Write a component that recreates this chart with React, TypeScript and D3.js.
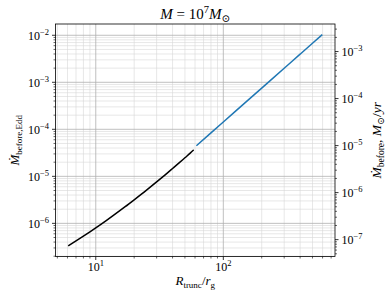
import React, { useRef, useEffect } from 'react';
import * as d3 from 'd3';

// truncation radius (in r_g) and accretion rate (Eddington units)
const innerR = [6.08, 7, 8, 9, 10, 12, 14, 17, 20, 25, 30, 35, 40, 45, 50, 55, 58.6];
const innerRate = [3.31e-7, 4.22e-7, 5.34e-7, 6.61e-7, 8.03e-7, 1.135e-6, 1.531e-6, 2.26e-6, 3.17e-6,
  5.09e-6, 7.6e-6, 1.076e-5, 1.466e-5, 1.93e-5, 2.48e-5, 3.11e-5, 3.65e-5];
const outerR = [61.5, 80, 100, 150, 200, 300, 400, 500, 597];
const outerRate = [4.47e-5, 8.38e-5, 1.43e-4, 3.78e-4, 7.53e-4, 1.99e-3, 3.96e-3, 6.76e-3, 1.035e-2];

const xTickExp = [1, 2];
const leftTickExp = [-6, -5, -4, -3, -2];
const rightTickExp = [-7, -6, -5, -4, -3];
const eddRate = 0.222; // Msun/yr for M = 1e7 Msun

const FONT = "'Liberation Serif', 'DejaVu Serif', serif";

const App = () => {
  const svgRef = useRef<SVGSVGElement>(null);

  useEffect(() => {
    const width = 390;
    const height = 297;
    const margin = { top: 24, right: 55, bottom: 40.5, left: 55.5 };
    const iw = width - margin.left - margin.right;
    const ih = height - margin.top - margin.bottom;

    const svg = d3.select(svgRef.current);
    svg.selectAll('*').remove();

    // matplotlib-like 5% margins in log space
    const allR = [...innerR, ...outerR];
    const allRate = [...innerRate, ...outerRate];
    const lx0 = Math.log10(d3.min(allR)!), lx1 = Math.log10(d3.max(allR)!);
    const ly0 = Math.log10(d3.min(allRate)!), ly1 = Math.log10(d3.max(allRate)!);
    const mx = (lx1 - lx0) * 0.05, my = (ly1 - ly0) * 0.05;

    const x = d3.scaleLog().domain([10 ** (lx0 - mx), 10 ** (lx1 + mx)]).range([0, iw]);
    const y = d3.scaleLog().domain([10 ** (ly0 - my), 10 ** (ly1 + my)]).range([ih, 0]);
    const y2 = d3.scaleLog().domain(y.domain().map(d => d * eddRate)).range([ih, 0]);

    const g = svg.append('g').attr('transform', `translate(${margin.left},${margin.top})`);

    // minor / major ticks in log space
    const logTicks = (scale: d3.ScaleLogarithmic<number, number>) => {
      const [a, b] = scale.domain();
      const major: number[] = [];
      const minor: number[] = [];
      for (let e = Math.floor(Math.log10(a)) - 1; e <= Math.ceil(Math.log10(b)); e++) {
        for (let k = 1; k < 10; k++) {
          const v = k * 10 ** e;
          if (v < a || v > b) continue;
          (k === 1 ? major : minor).push(v);
        }
      }
      return { major, minor };
    };

    const xt = logTicks(x);
    const yt = logTicks(y);
    const y2t = logTicks(y2);

    // grid
    const grid = g.append('g');
    xt.minor.forEach(v => grid.append('line').attr('x1', x(v)).attr('x2', x(v)).attr('y1', 0).attr('y2', ih)
      .attr('stroke', '#d6d6d6').attr('stroke-width', 0.6));
    yt.minor.forEach(v => grid.append('line').attr('y1', y(v)).attr('y2', y(v)).attr('x1', 0).attr('x2', iw)
      .attr('stroke', '#d6d6d6').attr('stroke-width', 0.6));
    xt.major.forEach(v => grid.append('line').attr('x1', x(v)).attr('x2', x(v)).attr('y1', 0).attr('y2', ih)
      .attr('stroke', '#b0b0b0').attr('stroke-width', 0.8));
    yt.major.forEach(v => grid.append('line').attr('y1', y(v)).attr('y2', y(v)).attr('x1', 0).attr('x2', iw)
      .attr('stroke', '#b0b0b0').attr('stroke-width', 0.8));

    // lines
    const line = d3.line<[number, number]>().x(d => x(d[0])).y(d => y(d[1])).curve(d3.curveMonotoneX);
    g.append('path')
      .datum(innerR.map((r, i) => [r, innerRate[i]] as [number, number]))
      .attr('d', line).attr('fill', 'none').attr('stroke', '#000').attr('stroke-width', 1.5);
    g.append('path')
      .datum(outerR.map((r, i) => [r, outerRate[i]] as [number, number]))
      .attr('d', line).attr('fill', 'none').attr('stroke', '#1f77b4').attr('stroke-width', 1.5);

    // spines
    g.append('rect').attr('width', iw).attr('height', ih)
      .attr('fill', 'none').attr('stroke', '#000').attr('stroke-width', 0.8);

    // ticks
    const ticks = g.append('g').attr('stroke', '#000');
    xt.major.forEach(v => ticks.append('line').attr('x1', x(v)).attr('x2', x(v)).attr('y1', ih).attr('y2', ih + 3.5).attr('stroke-width', 0.8));
    xt.minor.forEach(v => ticks.append('line').attr('x1', x(v)).attr('x2', x(v)).attr('y1', ih).attr('y2', ih + 2).attr('stroke-width', 0.6));
    yt.major.forEach(v => ticks.append('line').attr('y1', y(v)).attr('y2', y(v)).attr('x1', 0).attr('x2', -3.5).attr('stroke-width', 0.8));
    yt.minor.forEach(v => ticks.append('line').attr('y1', y(v)).attr('y2', y(v)).attr('x1', 0).attr('x2', -2).attr('stroke-width', 0.6));
    y2t.major.forEach(v => ticks.append('line').attr('y1', y2(v)).attr('y2', y2(v)).attr('x1', iw).attr('x2', iw + 3.5).attr('stroke-width', 0.8));
    y2t.minor.forEach(v => ticks.append('line').attr('y1', y2(v)).attr('y2', y2(v)).attr('x1', iw).attr('x2', iw + 2).attr('stroke-width', 0.6));

    // power-of-ten labels
    const powLabel = (sel: d3.Selection<SVGGElement, unknown, null, undefined>, px: number, py: number,
      exp: number, anchor: string) => {
      const t = sel.append('text').attr('x', px).attr('y', py).attr('text-anchor', anchor)
        .attr('font-family', FONT).attr('font-size', 12).attr('fill', '#000');
      t.append('tspan').text('10');
      t.append('tspan').attr('dy', -5).attr('font-size', 8.5).text(String(exp).replace('-', '\u2212'));
    };

    xTickExp.forEach(e => powLabel(g, x(10 ** e), ih + 14.5, e, 'middle'));
    leftTickExp.forEach(e => powLabel(g, -6.5, y(10 ** e) + 4.3, e, 'end'));
    rightTickExp.forEach(e => powLabel(g, iw + 6.5, y2(10 ** e) + 4.3, e, 'start'));

    // title
    const title = svg.append('text').attr('x', margin.left + iw / 2).attr('y', 19)
      .attr('text-anchor', 'middle').attr('font-family', FONT).attr('font-size', 15);
    title.append('tspan').attr('font-style', 'italic').text('M');
    title.append('tspan').text(' = 10');
    title.append('tspan').attr('dy', -6).attr('font-size', 10.5).text('7');
    title.append('tspan').attr('dy', 6).attr('font-style', 'italic').text('M');
    title.append('tspan').attr('dy', 3).attr('font-size', 10.5).text('\u2299');

    // x label
    const xl = svg.append('text').attr('x', margin.left + iw / 2).attr('y', 285)
      .attr('text-anchor', 'middle').attr('font-family', FONT).attr('font-size', 13);
    xl.append('tspan').attr('font-style', 'italic').text('R');
    xl.append('tspan').attr('dy', 3).attr('font-size', 9).text('trunc');
    xl.append('tspan').attr('dy', -3).text('/');
    xl.append('tspan').attr('font-style', 'italic').text('r');
    xl.append('tspan').attr('dy', 3).attr('font-size', 9).text('g');

    // left y label
    const yl = svg.append('text')
      .attr('transform', `translate(19,${margin.top + ih / 2}) rotate(-90)`)
      .attr('text-anchor', 'middle').attr('font-family', FONT).attr('font-size', 13);
    yl.append('tspan').attr('font-style', 'italic').text('\u1E40');
    yl.append('tspan').attr('dy', 3).attr('font-size', 9).text('before,Edd');

    // right y label
    const yr = svg.append('text')
      .attr('transform', `translate(381,${margin.top + ih / 2}) rotate(-90)`)
      .attr('text-anchor', 'middle').attr('font-family', FONT).attr('font-size', 13.5);
    yr.append('tspan').attr('font-style', 'italic').text('\u1E40');
    yr.append('tspan').attr('dy', 3).attr('font-size', 9.5).text('before');
    yr.append('tspan').attr('dy', -3).text(', ');
    yr.append('tspan').attr('font-style', 'italic').text('M');
    yr.append('tspan').attr('dy', 3).attr('font-size', 9.5).text('\u2299');
    yr.append('tspan').attr('dy', -3).text('/');
    yr.append('tspan').attr('font-style', 'italic').text('yr');
  }, []);

  return (
    <svg ref={svgRef} width={390} height={297}
      style={{ position: 'absolute', left: 0, top: 0, background: '#fff' }} />
  );
};

export default App;
